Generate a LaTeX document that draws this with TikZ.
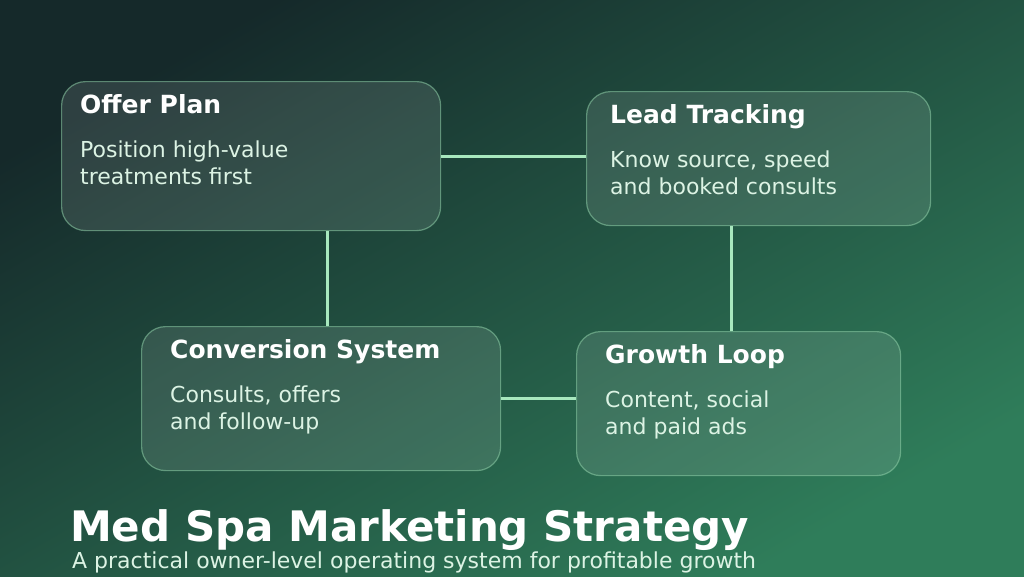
\documentclass[tikz,border=0pt]{standalone}
\usepackage{fontspec}
\setmainfont{DejaVu Sans}
\usepackage{tikz}
\usetikzlibrary{calc}
\definecolor{bgdark}{HTML}{15292A}
\definecolor{bggreen}{HTML}{2F7D5A}
\definecolor{linkgreen}{HTML}{A8E8BE}
\definecolor{edgegreen}{HTML}{8FCFA8}
\definecolor{bodytext}{HTML}{DCF3E4}

\begin{document}
\begin{tikzpicture} [x=1pt, y=-1pt,
  box/.style = {draw=edgegreen, draw opacity=.55, line width=1.2pt, fill=white, fill opacity=.11,
    rounded corners=24pt, inner sep=0pt, anchor=north west},
  head/.style = {anchor=base west, inner sep=0pt, text=white, font=\fontsize{25}{30}\selectfont\bfseries},
  body/.style = {anchor=base west, inner sep=0pt, text=bodytext, align=left, font=\fontsize{22}{27}\selectfont},
  link/.style = {draw=linkgreen, line width=3pt}]
\useasboundingbox (0,0) rectangle (1024,576);
\shade[left color=bgdark, right color=bggreen, shading angle=30] (0,0) rectangle (1024,576);
% boxes
\node[box, minimum width=379pt, minimum height=149pt](offer) at (61,81){};
\node[box, minimum width=344pt, minimum height=134pt](lead) at (586,91){};
\node[box, minimum width=359pt, minimum height=144pt](conv) at (141,326){};
\node[box, minimum width=324pt, minimum height=144pt](grow) at (576,331){};
% texts
\node[head](offerT) at ($(offer.north west)+(19,32)$){Offer Plan};
\node[body](offerB) at ($(offer.north west)+(19,103)$){Position high-value\\treatments first};
\node[head](leadT) at ($(lead.north west)+(24,32)$){Lead Tracking};
\node[body](leadB) at ($(lead.north west)+(24,103)$){Know source, speed\\and booked consults};
\node[head](convT) at ($(conv.north west)+(29,32)$){Conversion System};
\node[body](convB) at ($(conv.north west)+(29,103)$){Consults, offers\\and follow-up};
\node[head](growT) at ($(grow.north west)+(29,32)$){Growth Loop};
\node[body](growB) at ($(grow.north west)+(29,103)$){Content, social\\and paid ads};
% links
\draw[link] (offer.east) -- (offer.east -| lead.west);
\draw[link] ([xshift=6pt]conv.north) -- ([xshift=6pt]conv.north |- offer.south);
\draw[link] ([xshift=-7pt]grow.north) -- ([xshift=-7pt]grow.north |- lead.south);
\draw[link] (conv.east) -- (conv.east -| grow.west);
% title
\node[anchor=base west, inner sep=0pt, text=white, font=\fontsize{42}{48}\selectfont\bfseries](title) at (70,541){Med Spa Marketing Strategy};
\node[anchor=base west, inner sep=0pt, text=bodytext, font=\fontsize{22}{26}\selectfont](subtitle) at (72,568){A practical owner-level operating system for profitable growth};
\end{tikzpicture}
\end{document}
